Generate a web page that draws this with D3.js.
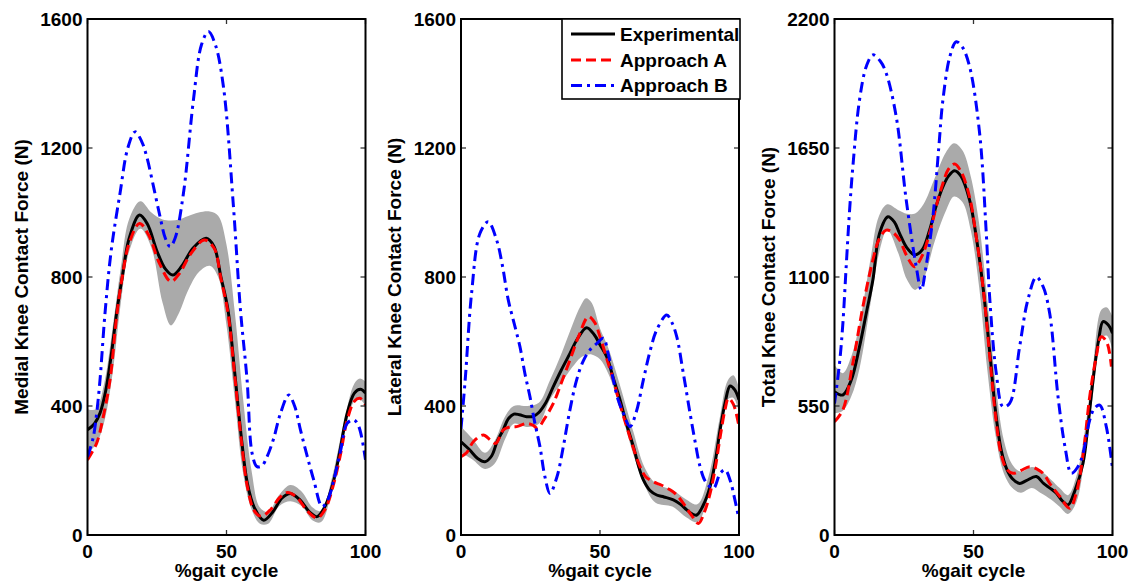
<!DOCTYPE html>
<html><head><meta charset="utf-8">
<script src="https://cdn.jsdelivr.net/npm/d3@7/dist/d3.min.js"></script>
<style>
body{margin:0;background:#fff}
text{font-family:"Liberation Sans",Arial,Helvetica,sans-serif;font-weight:bold;font-size:19px;fill:#000}
</style>
</head><body>
<svg id="chart" width="1133" height="585"></svg>
<script>
// ---------- tick labels & titles ----------
const xTicks = [0, 50, 100];
const medialTicks = [0, 400, 800, 1200, 1600];
const lateralTicks = [0, 400, 800, 1200, 1600];
const totalTicks = [0, 550, 1100, 1650, 2200];
const xLabel = "%gait cycle";
const yLabels = ["Medial Knee Contact Force (N)", "Lateral Knee Contact Force (N)", "Total Knee Contact Force (N)"];
const seriesNames = ["Experimental", "Approach A", "Approach B"];

// ---------- Medial ----------
const medialExp = [[0,326],[2.5,345],[4.5,378],[6.5,445],[8.5,555],[10.5,690],[12.5,800],[15,920],[18.7,992],[21.5,965],[25,880],[28,825],[30.7,806],[34,835],[38,890],[42.7,920],[45.5,895],[48,800],[50.5,700],[53,500],[55.5,290],[57.5,160],[60,85],[63.4,46],[66.5,70],[70,115],[73,129],[76.5,108],[80,70],[82.6,57],[85.5,90],[88.6,170],[91,270],[93.4,377],[96,440],[98.2,452],[100,440]];
const medialA = [[0,233],[3.3,285],[5.5,360],[8.1,481],[10.5,680],[12.5,800],[15,905],[18.7,966],[22,930],[26,840],[30,786],[33,810],[37,870],[42,915],[45.5,890],[48,795],[50.5,690],[53,490],[55.5,280],[57.5,150],[60,75],[62.5,58],[66,80],[69,115],[72,132],[75.5,115],[79,75],[82.6,53],[85.5,80],[88.6,160],[91,250],[93.4,356],[96,415],[98,424],[100,403]];
const medialB = [[0,243],[2,300],[3.3,378],[4.5,481],[6.3,688],[8.5,880],[11.7,1060],[14.5,1200],[17.1,1250],[19.5,1220],[21.3,1173],[24,1070],[26.1,987],[28,920],[29.7,894],[31.5,920],[34.5,1059],[38.1,1349],[41,1520],[43.5,1561],[46,1520],[48.9,1390],[52.5,1018],[55,700],[57.4,481],[59.2,254],[61,212],[62.8,215],[64.6,243],[67,300],[69.4,377],[72.4,434],[74.5,400],[76.6,326],[79,245],[81.4,170],[84.4,88],[86.5,110],[88.6,170],[91,260],[93.4,346],[95.8,357],[97.6,336],[100,233]];
const medialBandX = [0,3,6,9,12,15,19,23,27,30,33,36,40,44,47,50,53,56,59,62,65,69,73,77,81,84,88,92,96,98,100];
const medialBandHi = [390,390,470,640,830,980,1035,1000,978,975,978,988,1000,1003,990,900,690,420,200,85,72,125,155,135,85,75,180,340,470,485,475];
const medialBandLo = [255,280,350,500,720,880,950,890,720,650,690,755,815,835,800,650,420,190,80,35,35,90,105,90,45,40,140,300,415,420,400];

// ---------- Lateral ----------
const lateralExp = [[0,289],[3,265],[6,237],[8.6,227],[11,245],[13,290],[15.2,326],[17,360],[19,375],[21,373],[23.6,367],[26,368],[28,380],[30.5,410],[33.2,460],[36,510],[39.2,563],[42,610],[45.2,643],[48,620],[50,590],[52.4,553],[55,480],[57.2,419],[59.5,345],[62,274],[64,210],[65.6,171],[68,138],[70.4,124],[73,118],[76.4,109],[79,95],[81.2,78],[83,66],[84.8,62],[87,90],[89.6,150],[91.5,230],[93.2,326],[95,410],[96.8,462],[98.5,450],[100,419]];
const lateralA = [[0,243],[2,255],[4.5,290],[8,310],[10.5,295],[12.5,284],[15.2,326],[17.5,335],[20,336],[23.6,346],[26,340],[27.5,331],[30,360],[33.2,408],[36,470],[39.2,543],[42.5,620],[45.8,677],[48,660],[50,615],[52.5,545],[54.8,481],[57,410],[59.6,336],[62,270],[64.4,212],[66.5,180],[69.2,165],[72,155],[75.2,140],[77.5,125],[80,98],[83,60],[85.4,36],[87.5,70],[89.6,129],[91.5,210],[93.2,303],[95,390],[96.2,424],[98,405],[100,336]];
const lateralB = [[0,330],[1.5,480],[3.8,749],[6.8,935],[9.8,971],[12.8,915],[14.8,840],[17,729],[19,660],[21.2,584],[23,500],[24.8,429],[26.5,350],[28.4,274],[30.2,180],[32,129],[34.5,180],[36.8,274],[39,380],[41.6,481],[44,540],[46.4,574],[49,595],[51.2,610],[53,560],[54.8,481],[56.5,420],[58.4,377],[60.8,336],[63,380],[65.6,481],[68,570],[70.4,636],[74,682],[75.8,660],[77.6,615],[80,500],[82.4,377],[84.2,290],[86,212],[88,165],[90.8,145],[93.2,191],[95,202],[96.8,170],[98.5,110],[99.8,57]];
const lateralBandX = [0,4,8.6,12,16,19,24,28,32,36,40,43,45,47,50,53,57,62,66,70,76,81,85,89,93,96,98,100];
const lateralBandHi = [336,300,255,290,370,400,400,410,480,560,650,710,734,720,640,580,470,320,210,160,140,110,95,180,360,480,495,455];
const lateralBandLo = [254,235,205,220,300,345,335,345,420,470,520,550,558,560,545,500,400,250,155,100,88,55,40,120,290,420,425,380];

// ---------- Total ----------
const totalExp = [[0,611],[3,597],[6,660],[9,803],[11.5,950],[13.8,1087],[16.2,1286],[19.2,1357],[21.5,1335],[23.4,1286],[26,1225],[28.8,1194],[31.5,1215],[34.2,1300],[36.5,1400],[39,1485],[41,1530],[43.2,1553],[45.5,1530],[48.6,1428],[51,1270],[53.5,1050],[56,760],[58,520],[60,360],[62,280],[64,240],[66.6,220],[69,232],[72.6,249],[75.2,220],[77.5,200],[79.8,178],[82,145],[84,128],[86.5,190],[89.4,306],[91.3,480],[93,661],[95,830],[96.6,910],[98.5,895],[100,860]];
const totalA = [[0,483],[3,533],[6.6,732],[10.2,973],[13.8,1172],[16,1260],[18.6,1300],[21,1290],[23.4,1258],[26,1190],[28.8,1144],[31.5,1190],[34.2,1286],[37,1420],[39,1499],[41,1560],[43.2,1582],[45.5,1550],[48.6,1440],[51,1270],[53.5,1050],[56,740],[58,500],[60,340],[62,280],[64.2,263],[67,275],[70.2,291],[73,280],[75,263],[78,210],[81,165],[84.6,114],[87,180],[89.5,350],[91.8,590],[94,750],[96,845],[98,820],[99.6,718]];
const totalB = [[0,560],[1.8,732],[3,900],[4.2,1144],[5.4,1380],[6.6,1570],[9,1855],[11.5,2000],[13.8,2047],[16.5,2020],[18.6,1969],[22.2,1784],[25.8,1428],[29.4,1144],[31.2,1045],[33,1150],[35.4,1357],[37.5,1650],[39,1855],[41.5,2040],[43.8,2103],[46,2080],[48.6,1997],[52.2,1713],[54.6,1286],[55.8,1016],[58.2,689],[60.6,547],[63,561],[66.6,803],[69.5,1000],[72.6,1100],[75,1060],[77.4,945],[80.4,590],[83,370],[85.2,263],[87.5,290],[89.4,348],[91.8,490],[93.5,540],[95.4,554],[97.8,460],[100,284]];
const totalBandX = [0,3,6,9,13,16,19,23,26,29,32,36,40,43,46,49,52,55,58,61,64,67,71,74,78,81,84,87,90,93,96,98,100];
const totalBandHi = [725,690,760,900,1180,1360,1410,1385,1370,1371,1410,1520,1630,1670,1640,1530,1330,1000,640,400,300,270,290,275,235,200,170,250,440,720,960,970,930];
const totalBandLo = [519,530,590,710,990,1200,1300,1200,1090,1045,1090,1250,1380,1443,1420,1300,1060,700,420,260,200,180,200,180,150,120,90,140,330,600,840,850,790];

// ---------- layout ----------
const svg = d3.select("#chart");
const plotTop = 19, plotBottom = 535, plotW = 278;
const lefts = [87.5, 461, 834.5];
const panels = [
  {ticks: medialTicks, exp: medialExp, a: medialA, b: medialB, bx: medialBandX, hi: medialBandHi, lo: medialBandLo},
  {ticks: lateralTicks, exp: lateralExp, a: lateralA, b: lateralB, bx: lateralBandX, hi: lateralBandHi, lo: lateralBandLo},
  {ticks: totalTicks, exp: totalExp, a: totalA, b: totalB, bx: totalBandX, hi: totalBandHi, lo: totalBandLo}
];
const styles = [
  {color: "#000000", dash: null},
  {color: "#ff0000", dash: "10,5"},
  {color: "#0000ff", dash: "11,5,3,5"}
];

panels.forEach((p, i) => {
  const L = lefts[i];
  const x = d3.scaleLinear().domain([0, 100]).range([L, L + plotW]);
  const y = d3.scaleLinear().domain([0, d3.max(p.ticks)]).range([plotBottom, plotTop]);
  const g = svg.append("g");
  const clipId = "clip" + i;
  svg.append("clipPath").attr("id", clipId).append("rect")
    .attr("x", L).attr("y", plotTop).attr("width", plotW).attr("height", plotBottom - plotTop);
  const pg = g.append("g").attr("clip-path", `url(#${clipId})`);

  const curve = d3.curveCatmullRom.alpha(0.5);
  const area = d3.area().x((d, k) => x(p.bx[k])).y0((d, k) => y(p.lo[k])).y1((d, k) => y(p.hi[k])).curve(curve);
  pg.append("path").datum(p.bx).attr("d", area).attr("fill", "#aaaaaa").attr("stroke", "none");

  const line = d3.line().x(d => x(d[0])).y(d => y(d[1])).curve(curve);
  [p.exp, p.a, p.b].forEach((s, k) => {
    pg.append("path").datum(s).attr("d", line)
      .attr("fill", "none").attr("stroke", styles[k].color).attr("stroke-width", 3)
      .attr("stroke-dasharray", styles[k].dash).attr("stroke-linejoin", "round");
  });

  // ticks (inward, mirrored)
  const tg = g.append("g").attr("stroke", "#333").attr("stroke-width", 1.3);
  p.ticks.forEach(t => {
    tg.append("line").attr("x1", L).attr("x2", L + 5).attr("y1", y(t)).attr("y2", y(t));
    tg.append("line").attr("x1", L + plotW).attr("x2", L + plotW - 5).attr("y1", y(t)).attr("y2", y(t));
  });
  xTicks.forEach(t => {
    tg.append("line").attr("x1", x(t)).attr("x2", x(t)).attr("y1", plotBottom).attr("y2", plotBottom - 5);
    tg.append("line").attr("x1", x(t)).attr("x2", x(t)).attr("y1", plotTop).attr("y2", plotTop + 5);
  });

  // frame
  g.append("rect").attr("x", L).attr("y", plotTop).attr("width", plotW).attr("height", plotBottom - plotTop)
    .attr("fill", "none").attr("stroke", "#000").attr("stroke-width", 2);

  // tick labels
  p.ticks.forEach(t => {
    g.append("text").attr("x", L - 5).attr("y", y(t)).attr("dy", "0.36em")
      .attr("text-anchor", "end").text(t);
  });
  xTicks.forEach(t => {
    g.append("text").attr("x", x(t)).attr("y", 558).attr("text-anchor", "middle").text(t);
  });
  g.append("text").attr("x", L + plotW / 2).attr("y", 577).attr("text-anchor", "middle").text(xLabel);
  g.append("text").attr("transform", `translate(${L - 60},${(plotTop + plotBottom) / 2}) rotate(-90)`)
    .attr("text-anchor", "middle").text(yLabels[i]);
});

// legend
const lg = svg.append("g");
lg.append("rect").attr("x", 562).attr("y", 19).attr("width", 178).attr("height", 80)
  .attr("fill", "#fff").attr("stroke", "#000").attr("stroke-width", 1.6);
const rowY = [34, 60, 85.5];
seriesNames.forEach((n, k) => {
  lg.append("line").attr("x1", 571).attr("x2", 615).attr("y1", rowY[k]).attr("y2", rowY[k])
    .attr("stroke", styles[k].color).attr("stroke-width", 3).attr("stroke-dasharray", styles[k].dash);
  lg.append("text").attr("x", 620).attr("y", rowY[k] + 6.5).text(n);
});
</script>
</body></html>
